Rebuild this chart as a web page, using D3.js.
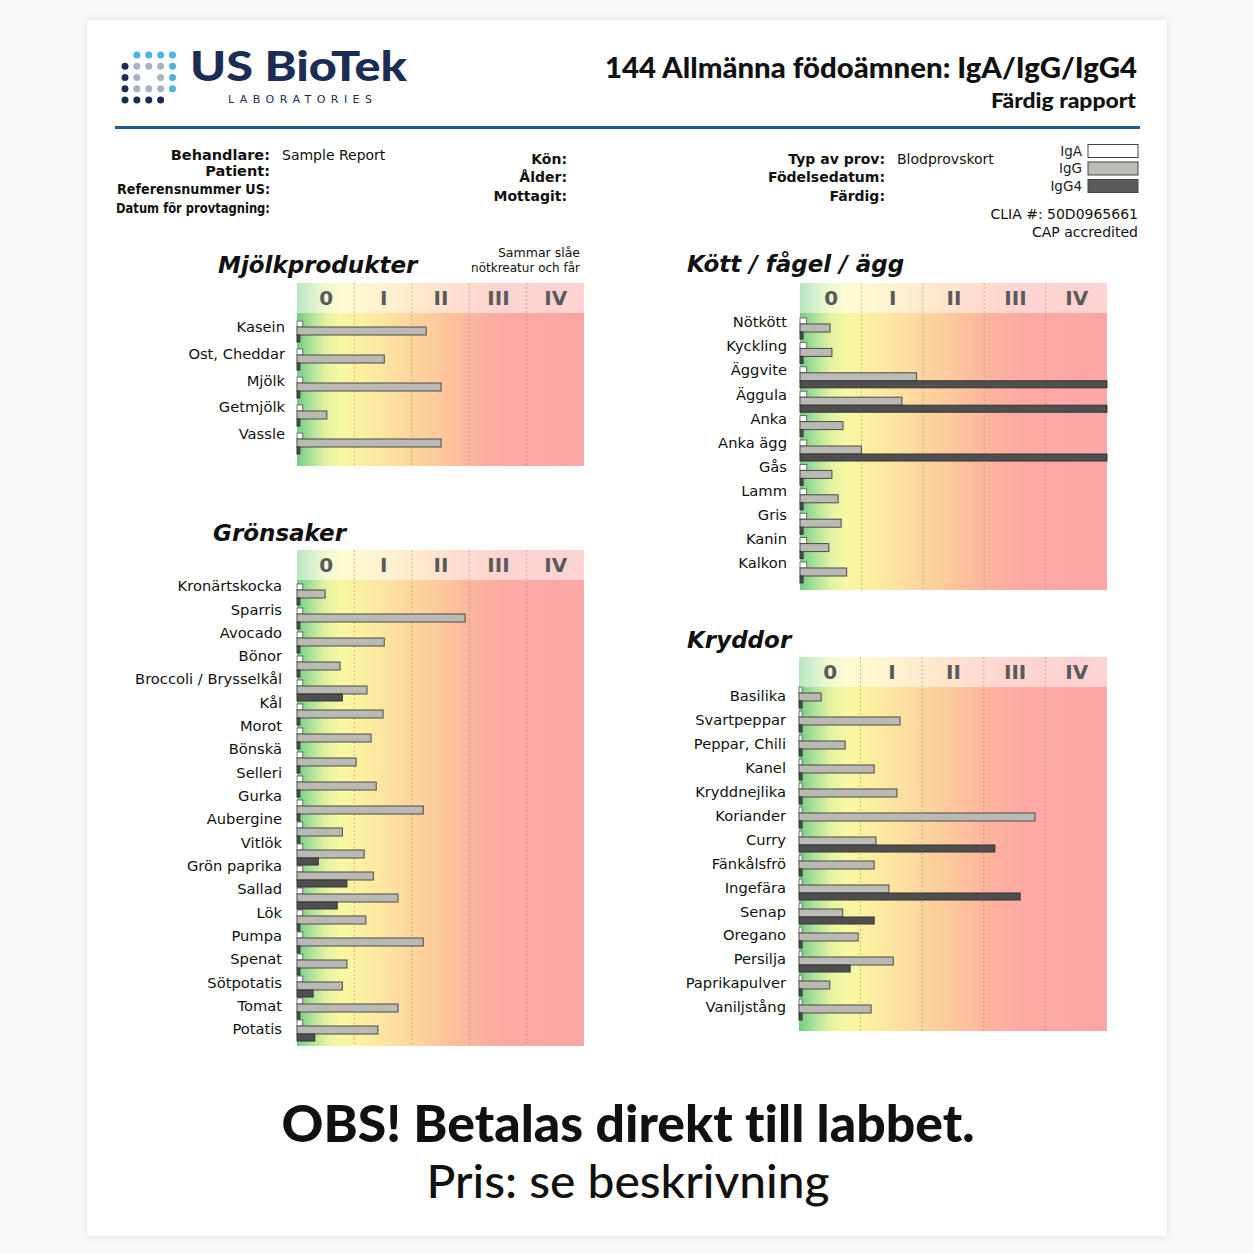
<!DOCTYPE html>
<html><head><meta charset="utf-8">
<script src="https://cdn.jsdelivr.net/npm/d3@7"></script>
<style>html,body{margin:0;padding:0;background:#f7f7f7;}svg{display:block}text{font-variant-ligatures:none;}</style>
</head><body>
<svg id="c" width="1254" height="1254"></svg>
<script>
// ---------- DATA ----------
const classLabels = ["0", "I", "II", "III", "IV"];

const dairyItems = ["Kasein", "Ost, Cheddar", "Mjölk", "Getmjölk", "Vassle"];
const dairyIgA  = [0.1, 0.1, 0.1, 0.1, 0.1];
const dairyIgG  = [2.25, 1.52, 2.51, 0.52, 2.51];
const dairyIgG4 = [0.05, 0.05, 0.05, 0.05, 0.05];

const meatItems = ["Nötkött", "Kyckling", "Äggvite", "Äggula", "Anka", "Anka ägg", "Gås", "Lamm", "Gris", "Kanin", "Kalkon"];
const meatIgA  = [0.11, 0.11, 0.11, 0.11, 0.11, 0.11, 0.11, 0.11, 0.11, 0.11, 0.11];
const meatIgG  = [0.49, 0.52, 1.90, 1.66, 0.70, 1.00, 0.52, 0.62, 0.67, 0.47, 0.76];
const meatIgG4 = [0.05, 0.05, 5, 5, 0.05, 5, 0.05, 0.05, 0.05, 0.05, 0.05];

const vegItems = ["Kronärtskocka", "Sparris", "Avocado", "Bönor", "Broccoli / Brysselkål", "Kål", "Morot", "Bönskä", "Selleri", "Gurka", "Aubergine", "Vitlök", "Grön paprika", "Sallad", "Lök", "Pumpa", "Spenat", "Sötpotatis", "Tomat", "Potatis"];
const vegIgA  = [0.1, 0.1, 0.1, 0.1, 0.1, 0.1, 0.1, 0.1, 0.1, 0.1, 0.1, 0.1, 0.1, 0.1, 0.1, 0.1, 0.1, 0.1, 0.1, 0.1];
const vegIgG  = [0.49, 2.93, 1.52, 0.75, 1.22, 1.50, 1.29, 1.03, 1.38, 2.20, 0.79, 1.17, 1.33, 1.76, 1.20, 2.20, 0.87, 0.79, 1.76, 1.41];
const vegIgG4 = [0.05, 0.05, 0.05, 0.05, 0.79, 0.05, 0.05, 0.05, 0.05, 0.05, 0.05, 0.37, 0.87, 0.70, 0.05, 0.05, 0.05, 0.28, 0.05, 0.31];

const spiceItems = ["Basilika", "Svartpeppar", "Peppar, Chili", "Kanel", "Kryddnejlika", "Koriander", "Curry", "Fänkålsfrö", "Ingefära", "Senap", "Oregano", "Persilja", "Paprikapulver", "Vaniljstång"];
const spiceIgA  = [0.05, 0.05, 0.05, 0.05, 0.05, 0.05, 0.05, 0.05, 0.05, 0.05, 0.05, 0.05, 0.05, 0.05];
const spiceIgG  = [0.36, 1.64, 0.75, 1.22, 1.59, 3.83, 1.25, 1.22, 1.46, 0.71, 0.96, 1.53, 0.50, 1.17];
const spiceIgG4 = [0.05, 0.05, 0.05, 0.05, 0.05, 0.05, 3.18, 0.05, 3.59, 1.22, 0.05, 0.83, 0.05, 0.05];

const legendNames = ["IgA", "IgG", "IgG4"];

// ---------- SETUP ----------
const svg = d3.select("#c");
const defs = svg.append("defs");
const sh = defs.append("filter").attr("id", "sh").attr("x", "-5%").attr("y", "-5%").attr("width", "110%").attr("height", "110%");
sh.append("feDropShadow").attr("dx", 0).attr("dy", 0).attr("stdDeviation", 3).attr("flood-color", "#000").attr("flood-opacity", 0.12);

const grad = defs.append("linearGradient").attr("id", "bg").attr("x1", 0).attr("x2", 1).attr("y1", 0).attr("y2", 0);
[[0, "#72cc84"], [0.05, "#ade29a"], [0.1, "#e2f2a0"], [0.15, "#f8f7a2"], [0.22, "#fbf0a0"],
 [0.32, "#fce2a0"], [0.42, "#fcd39d"], [0.52, "#fdc49c"], [0.62, "#fdb39e"], [0.72, "#fca9a3"], [1, "#fba6a6"]]
  .forEach(s => grad.append("stop").attr("offset", s[0]).attr("stop-color", s[1]));

svg.append("rect").attr("width", 1254).attr("height", 1254).attr("fill", "#f9f9f9");
svg.append("rect").attr("x", 87).attr("y", 20).attr("width", 1080).attr("height", 1216).attr("fill", "#fff").attr("filter", "url(#sh)");

// ---------- LOGO ----------
const logoPattern = [
  "_BBBB",
  "NGGGB",
  "NG_GB",
  "NGGGB",
  "NNNN_"
];
const dotCol = { B: "#4cb2de", G: "#a8b3c1", N: "#1c2c50" };
const dots = [];
logoPattern.forEach((row, r) => row.split("").forEach((c, k) => { if (c !== "_") dots.push({ r, k, c }); }));
const lx = d3.scaleLinear().domain([0, 4]).range([125, 172.5]);
const ly = d3.scaleLinear().domain([0, 4]).range([55, 100]);
svg.append("g").selectAll("circle").data(dots).join("circle")
  .attr("cx", d => lx(d.k)).attr("cy", d => ly(d.r)).attr("r", 3.5).attr("fill", d => dotCol[d.c]);

svg.append("text").attr("x", 190).attr("y", 81).attr("font-family", "Lato").attr("font-weight", 900)
  .attr("font-size", 41).attr("fill", "#1c2d55").attr("textLength", 217).attr("lengthAdjust", "spacingAndGlyphs").text("US BioTek");
svg.append("text").attr("x", 228).attr("y", 103).attr("font-family", "DejaVu Sans").attr("font-size", 11)
  .attr("fill", "#1c2d55").attr("textLength", 144).attr("lengthAdjust", "spacing").text("LABORATORIES");

// ---------- TITLE ----------
svg.append("text").attr("x", 1137).attr("y", 78).attr("text-anchor", "end").attr("font-family", "Lato").attr("font-weight", 900)
  .attr("font-size", 28).attr("fill", "#111").attr("textLength", 532).attr("lengthAdjust", "spacingAndGlyphs")
  .text("144 Allmänna födoämnen: IgA/IgG/IgG4");
svg.append("text").attr("x", 1136).attr("y", 108).attr("text-anchor", "end").attr("font-family", "Lato").attr("font-weight", 900)
  .attr("font-size", 21.5).attr("fill", "#111").attr("textLength", 145).attr("lengthAdjust", "spacingAndGlyphs").text("Färdig rapport");
svg.append("line").attr("x1", 115).attr("x2", 1140).attr("y1", 127.5).attr("y2", 127.5).attr("stroke", "#1f5a92").attr("stroke-width", 3);

// ---------- HEADER INFO ----------
function label(x, y, t, opts = {}) {
  const el = svg.append("text").attr("x", x).attr("y", y).attr("font-family", "DejaVu Sans")
    .attr("font-size", opts.size || 14).attr("font-weight", opts.bold ? "bold" : "normal")
    .attr("text-anchor", opts.anchor || "start").attr("fill", "#111").text(t);
  if (opts.len) el.attr("textLength", opts.len).attr("lengthAdjust", "spacingAndGlyphs");
  return el;
}
label(270, 160, "Behandlare:", { bold: true, anchor: "end", size: 14.5 });
label(270, 176, "Patient:", { bold: true, anchor: "end", size: 14.5 });
label(270, 194, "Referensnummer US:", { bold: true, anchor: "end", len: 153 });
label(270, 213, "Datum för provtagning:", { bold: true, anchor: "end", len: 154 });
label(282, 160, "Sample Report");
label(567, 164, "Kön:", { bold: true, anchor: "end" });
label(567, 182, "Ålder:", { bold: true, anchor: "end" });
label(567, 201, "Mottagit:", { bold: true, anchor: "end" });
label(885, 164, "Typ av prov:", { bold: true, anchor: "end" });
label(885, 182, "Födelsedatum:", { bold: true, anchor: "end" });
label(885, 201, "Färdig:", { bold: true, anchor: "end" });
label(897, 164, "Blodprovskort");

const legFill = ["#ffffff", "#bdbdb8", "#5a5a5a"];
const legY = d3.scalePoint().domain(legendNames).range([151, 186]);
const lg = svg.append("g");
lg.selectAll("rect").data(legendNames).join("rect")
  .attr("x", 1088).attr("y", d => legY(d) - 6.5).attr("width", 50).attr("height", 13)
  .attr("fill", (d, i) => legFill[i]).attr("stroke", "#444").attr("stroke-width", 1);
lg.selectAll("text").data(legendNames).join("text")
  .attr("x", 1082).attr("y", d => legY(d)).attr("dy", "0.36em").attr("text-anchor", "end")
  .attr("font-family", "DejaVu Sans").attr("font-size", 13.5).attr("fill", "#222").text(d => d);

label(1138, 219, "CLIA #: 50D0965661", { anchor: "end" });
label(1138, 237, "CAP accredited", { anchor: "end" });

// ---------- PANELS ----------
const panels = [
  { title: "Mjölkprodukter", tx: 218, ty: 273, x0: 297, x1: 584, top: 283, head: 313, bottom: 466,
    items: dairyItems, a: dairyIgA, g: dairyIgG, g4: dairyIgG4,
    barDomain: [0, 4], barRange: [331, 443], labelRange: [327, 434], gap: 12 },
  { title: "Kött / fågel / ägg", tx: 687, ty: 272, x0: 800, x1: 1107, top: 283, head: 313, bottom: 590,
    items: meatItems, a: meatIgA, g: meatIgG, g4: meatIgG4,
    barDomain: [0, 10], barRange: [328, 572], labelRange: [322, 563], gap: 13 },
  { title: "Grönsaker", tx: 213, ty: 541, x0: 297, x1: 584, top: 550, head: 580, bottom: 1046,
    items: vegItems, a: vegIgA, g: vegIgG, g4: vegIgG4,
    barDomain: [0, 9, 19], barRange: [594, 810, 1030], labelRange: [586, 1029], gap: 15 },
  { title: "Kryddor", tx: 687, ty: 648, x0: 799, x1: 1107, top: 657, head: 687, bottom: 1031,
    items: spiceItems, a: spiceIgA, g: spiceIgG, g4: spiceIgG4,
    barDomain: [0, 13], barRange: [697, 1009], labelRange: [696, 1007], gap: 13 }
];

panels.forEach(p => {
  const x = d3.scaleLinear().domain([0, 5]).range([p.x0, p.x1]).clamp(true);
  const yBar = d3.scaleLinear().domain(p.barDomain).range(p.barRange);
  const yLab = d3.scalePoint().domain(p.items).range(p.labelRange);
  const g = svg.append("g");

  g.append("rect").attr("x", p.x0).attr("y", p.top).attr("width", p.x1 - p.x0).attr("height", p.bottom - p.top).attr("fill", "url(#bg)");
  g.append("rect").attr("x", p.x0).attr("y", p.top).attr("width", p.x1 - p.x0).attr("height", p.head - p.top).attr("fill", "#fff").attr("opacity", 0.5);

  g.selectAll("line.grid").data(d3.range(1, 5)).join("line").attr("class", "grid")
    .attr("x1", d => x(d)).attr("x2", d => x(d)).attr("y1", p.top).attr("y2", p.bottom)
    .attr("stroke", "#8a7a70").attr("stroke-opacity", 0.45).attr("stroke-dasharray", "2,2").attr("stroke-width", 1);

  // class numerals (top axis)
  const ax = g.append("g").attr("transform", `translate(0,${(p.top + p.head) / 2 + 7})`)
    .call(d3.axisTop(x).tickValues(d3.range(5).map(i => i + 0.5)).tickFormat((d, i) => classLabels[i]).tickSize(0).tickPadding(0));
  ax.select(".domain").remove();
  ax.selectAll("text").attr("font-family", "DejaVu Sans").attr("font-weight", "bold").attr("font-size", 20).attr("fill", "#5a5a5a");

  // rows
  const rows = p.items.map((name, i) => ({ name, i, a: p.a[i], g: p.g[i], g4: p.g4[i] }));
  const rg = g.append("g");
  rg.selectAll("rect.iga").data(rows).join("rect").attr("class", "iga")
    .attr("x", p.x0).attr("y", d => yBar(d.i) - 10).attr("width", d => x(d.a) - p.x0).attr("height", 6)
    .attr("fill", "#fff").attr("stroke", "#555").attr("stroke-width", 0.8);
  rg.selectAll("rect.igg").data(rows).join("rect").attr("class", "igg")
    .attr("x", p.x0).attr("y", d => yBar(d.i) - 4).attr("width", d => x(d.g) - p.x0).attr("height", 8)
    .attr("fill", "#bab9b3").attr("stroke", "#4a4a4a").attr("stroke-width", 1);
  rg.selectAll("rect.igg4").data(rows).join("rect").attr("class", "igg4")
    .attr("x", p.x0).attr("y", d => yBar(d.i) + 4).attr("width", d => x(d.g4) - p.x0).attr("height", 7)
    .attr("fill", "#4f4f4f").attr("stroke", "#333").attr("stroke-width", 1);

  // item labels (left axis)
  const ay = g.append("g").attr("transform", `translate(${p.x0 - p.gap},0)`)
    .call(d3.axisLeft(yLab).tickSize(0).tickPadding(0));
  ay.select(".domain").remove();
  ay.selectAll("text").attr("font-family", "DejaVu Sans").attr("font-size", 14.7).attr("fill", "#111");

  g.append("text").attr("x", p.tx).attr("y", p.ty).attr("font-family", "DejaVu Sans").attr("font-weight", "bold")
    .attr("font-style", "italic").attr("font-size", 23).attr("fill", "#111").text(p.title);
});

// dairy note
label(580, 257, "Sammar slåe", { anchor: "end", size: 12.5 });
label(580, 272, "nötkreatur och får", { anchor: "end", size: 12 });

// ---------- FOOTER ----------
svg.append("text").attr("x", 628).attr("y", 1142).attr("text-anchor", "middle").attr("font-family", "Lato").attr("font-weight", 900)
  .attr("font-size", 52).attr("fill", "#111").attr("textLength", 693).attr("lengthAdjust", "spacingAndGlyphs").text("OBS! Betalas direkt till labbet.");
svg.append("text").attr("x", 628).attr("y", 1198).attr("text-anchor", "middle").attr("font-family", "Lato").attr("font-weight", 500)
  .attr("font-size", 47).attr("fill", "#111").attr("textLength", 403).attr("lengthAdjust", "spacingAndGlyphs").text("Pris: se beskrivning");
</script>
</body></html>
